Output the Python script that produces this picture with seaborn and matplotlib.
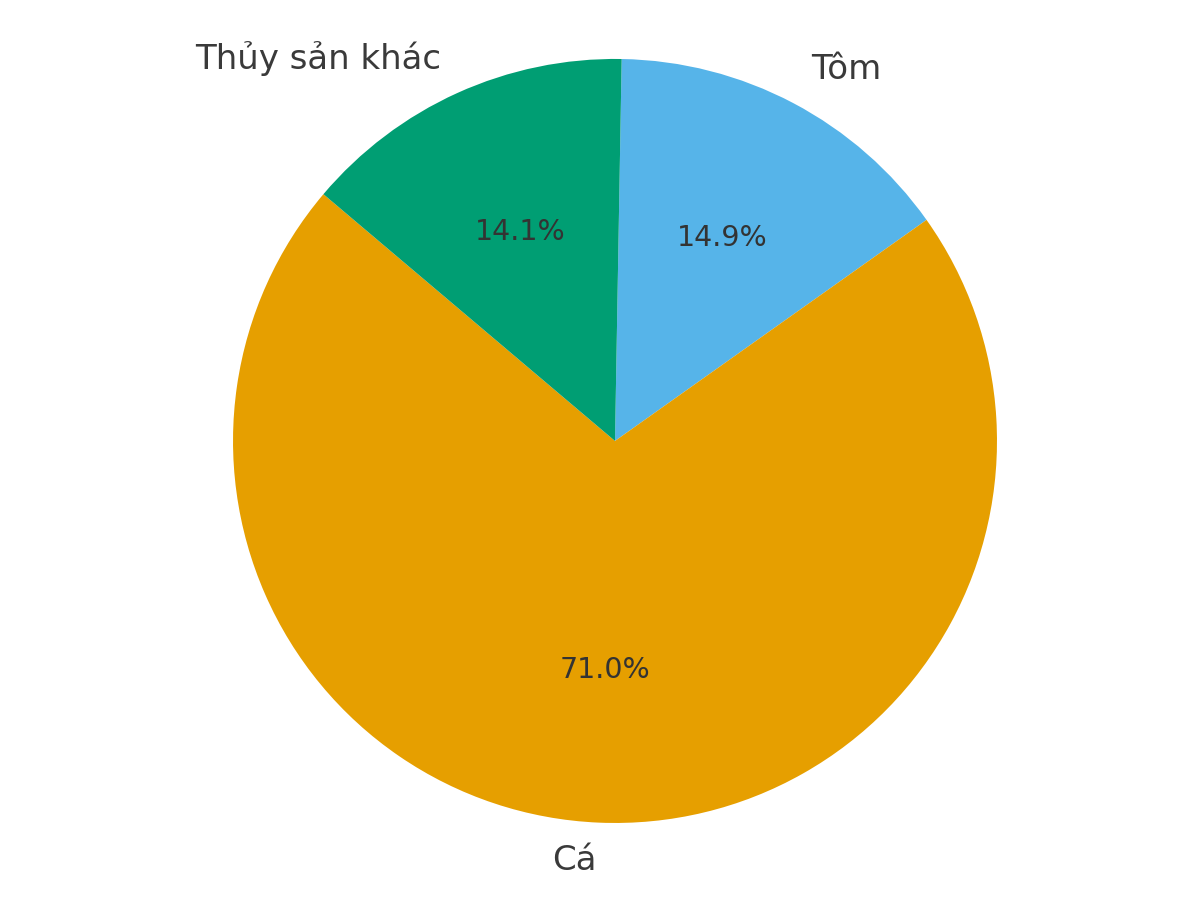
import matplotlib
matplotlib.use("Agg")
import matplotlib.pyplot as plt
import seaborn as sns

# Data
labels = ["Tôm", "Cá", "Thủy sản khác"]
shares = [14.9, 71.0, 14.1]
colors = ["#56B4E9", "#E69F00", "#009E73"]

sns.set_theme(style="white")
plt.rcParams["font.family"] = ["DejaVu Sans"]

fig = plt.figure(figsize=(12, 8.98), dpi=100)
# square axes so the pie (radius 1, limits +-1.25) lands where the reference has it
ax = fig.add_axes([0.1146, -0.0228, 0.7958, 1.0635])

wedges, texts, autotexts = ax.pie(
    shares,
    labels=labels,
    colors=colors,
    autopct="%1.1f%%",
    startangle=89,
    counterclock=False,
    wedgeprops={"linewidth": 0, "edgecolor": "none"},
    textprops={"fontsize": 24.5, "color": "#3a3a3a"},
)
for t in autotexts:
    t.set_fontsize(20.5)
    t.set_color("#333333")
ax.axis("equal")
ax.set_xlim(-1.25, 1.25)
ax.set_ylim(-1.25, 1.25)

fig.savefig("out.png", dpi=100, facecolor="white")
